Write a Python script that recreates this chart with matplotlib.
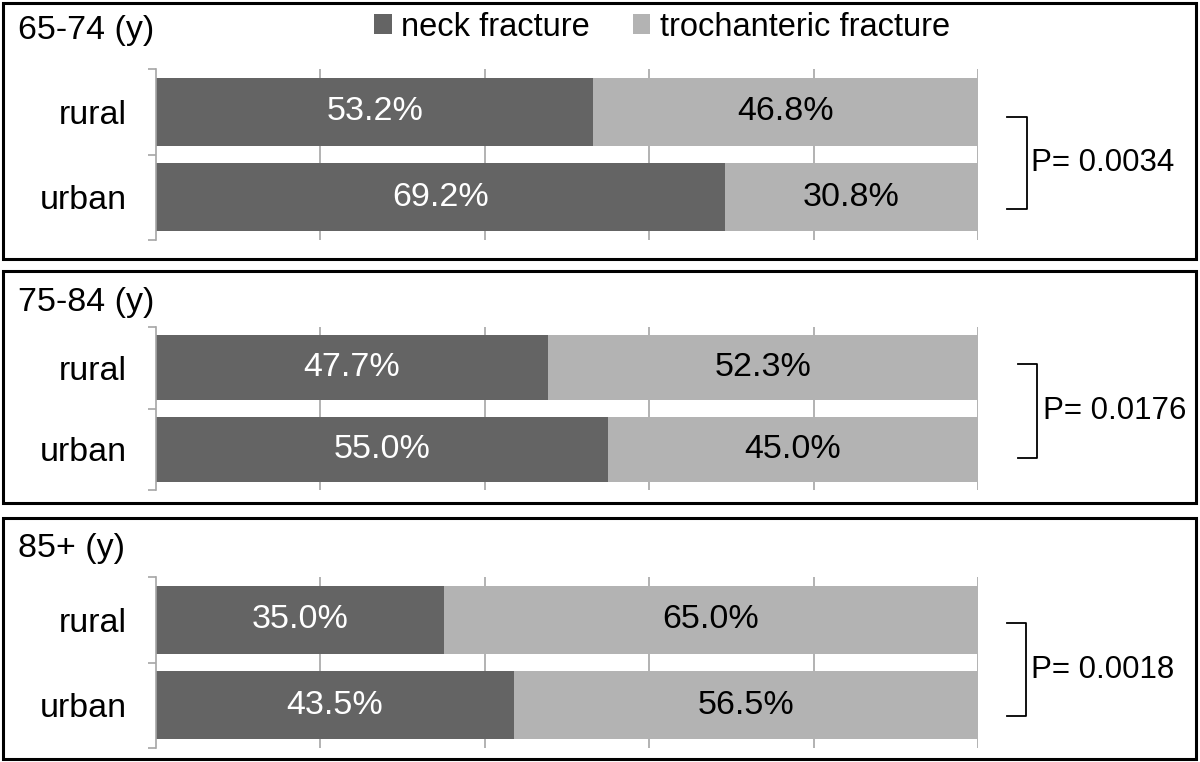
import matplotlib
matplotlib.use("Agg")
import matplotlib.pyplot as plt
from matplotlib.patches import Rectangle, Patch
from matplotlib.lines import Line2D

plt.rcParams['font.family'] = ['Liberation Sans', 'DejaVu Sans']

# ---- data ----
age_groups = ["65-74 (y)", "75-84 (y)", "85+ (y)"]
areas = ["rural", "urban"]
neck = [[53.2, 69.2], [47.7, 55.0], [35.0, 43.5]]
troch = [[46.8, 30.8], [52.3, 45.0], [65.0, 56.5]]
p_values = ["P= 0.0034", "P= 0.0176", "P= 0.0018"]
series_names = ["neck fracture", "trochanteric fracture"]

# ---- style / layout ----
DARK = "#646464"
LIGHT = "#b3b3b3"
GRID = "#a6a6a6"
FS = 24.5
FS_LEG = 23.5
FS_P = 22.5
W, H = 1200, 762

fig = plt.figure(figsize=(W / 100, H / 100), dpi=100)

boxes = [(3, 3, 1196, 259), (3, 271, 1196, 503), (3, 518, 1196, 759)]
axes_y = [(69, 240), (327, 490), (577, 748)]
title_y = [30, 303, 548]
bracket = [(1007, 1027, 117, 209), (1018, 1037, 364, 458), (1007, 1026, 623, 716)]
ptext_x = [1031, 1043, 1031]
AX_X0, AX_X1 = 156, 978


def fx(x):
    return x / W


def fy(y):
    return 1 - y / H


for i in range(3):
    bx0, by0, bx1, by1 = boxes[i]
    fig.patches.append(Rectangle((fx(bx0), fy(by1)), fx(bx1 - bx0), (by1 - by0) / H,
                                 transform=fig.transFigure, fill=False,
                                 edgecolor="black", linewidth=2.2, zorder=0))
    y0, y1 = axes_y[i]
    ax = fig.add_axes([fx(AX_X0), fy(y1), fx(AX_X1 - AX_X0), (y1 - y0) / H])
    ypos = list(range(len(areas)))
    ax.barh(ypos, neck[i], height=0.8, color=DARK, zorder=2)
    ax.barh(ypos, troch[i], left=neck[i], height=0.8, color=LIGHT, zorder=2)
    for j in ypos:
        ax.text(neck[i][j] / 2, j, f"{neck[i][j]:.1f}%", ha="center", va="center",
                color="white", fontsize=FS, zorder=3)
        ax.text(neck[i][j] + troch[i][j] / 2, j, f"{troch[i][j]:.1f}%", ha="center",
                va="center", color="black", fontsize=FS, zorder=3)
    ax.set_xlim(0, 100)
    ax.set_ylim(1.5, -0.5)
    ax.set_xticks([20, 40, 60, 80, 100])
    ax.grid(axis="x", color=GRID, linewidth=1.2, zorder=0)
    ax.set_axisbelow(True)
    ax.tick_params(axis="x", length=0, labelbottom=False)
    ax.set_yticks(ypos)
    ax.set_yticklabels(areas, fontsize=FS)
    ax.set_yticks([-0.5, 0.5, 1.5], minor=True)
    ax.tick_params(axis="y", which="major", length=0, pad=21)
    ax.tick_params(axis="y", which="minor", length=6, color=GRID, width=1.2)
    for s in ["top", "right", "bottom"]:
        ax.spines[s].set_visible(False)
    ax.spines["left"].set_color(GRID)
    ax.spines["left"].set_linewidth(1.2)
    ax.patch.set_visible(False)

    fig.text(fx(18), fy(title_y[i]), age_groups[i], fontsize=FS, ha="left", va="center")

    xa, xb, ya, yb = bracket[i]
    fig.add_artist(Line2D([fx(xa), fx(xb), fx(xb), fx(xa)], [fy(ya), fy(ya), fy(yb), fy(yb)],
                          transform=fig.transFigure, color="black", linewidth=1.3))
    fig.text(fx(ptext_x[i]), fy((ya + yb) / 2), p_values[i], fontsize=FS_P, ha="left", va="center")

handles = [Patch(facecolor=DARK, edgecolor="none"), Patch(facecolor=LIGHT, edgecolor="none")]
fig.legend(handles, series_names, loc="center", bbox_to_anchor=(fx(662), fy(27)), ncol=2,
           frameon=False, fontsize=FS_LEG, handlelength=0.55, handleheight=0.55,
           handletextpad=0.3, columnspacing=1.3, borderpad=0)

fig.savefig("out.png", dpi=100)
